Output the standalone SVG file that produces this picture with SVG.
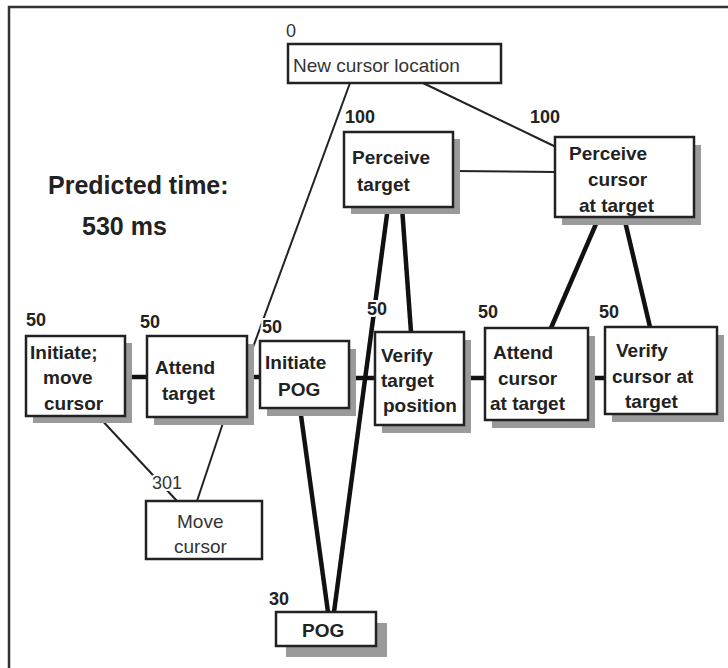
<svg xmlns="http://www.w3.org/2000/svg" width="728" height="668" viewBox="0 0 728 668">
<style>
.box{fill:#fff;stroke:#222;stroke-width:2.5}
.shadow{fill:#9a9a9a;stroke:none}
.b{font-family:"Liberation Sans",Arial,sans-serif;font-weight:bold;font-size:19px;fill:#222}
.lbl{font-family:"Liberation Sans",Arial,sans-serif;font-weight:bold;font-size:18px;fill:#222;stroke:#fff;stroke-width:4;paint-order:stroke}
.r{font-family:"Liberation Sans",Arial,sans-serif;font-size:19px;fill:#333}
.rl{font-family:"Liberation Sans",Arial,sans-serif;font-size:18px;fill:#333;stroke:#fff;stroke-width:4;paint-order:stroke}
.thick{stroke:#111;stroke-width:4.5;fill:none}
.thin{stroke:#222;stroke-width:2;fill:none}
.title{font-family:"Liberation Sans",Arial,sans-serif;font-weight:bold;font-size:25px;fill:#222}
</style>
<rect width="728" height="668" fill="#fff"/>
<path d="M9,668 V7 H728" fill="none" stroke="#333" stroke-width="2.5"/>
<g id="title">
<text class="title" x="48" y="194">Predicted time:</text>
<text class="title" x="82" y="235">530 ms</text>
</g>
<g id="connectors">
<line class="thin" x1="350" y1="83" x2="252" y2="350"/>
<line class="thin" x1="423" y1="83" x2="556" y2="147"/>
<line class="thin" x1="453" y1="171" x2="556" y2="172"/>
<line class="thin" x1="98" y1="416" x2="177" y2="501"/>
<line class="thin" x1="225" y1="417" x2="197" y2="501"/>
<line class="thick" x1="125" y1="377" x2="147" y2="377"/>
<line class="thick" x1="247" y1="377" x2="260" y2="377"/>
<line class="thick" x1="349" y1="378" x2="375" y2="378"/>
<line class="thick" x1="464" y1="378" x2="485" y2="378"/>
<line class="thick" x1="588" y1="378" x2="605" y2="378"/>
<line class="thick" x1="388" y1="207" x2="334" y2="612"/>
<line class="thick" x1="402" y1="207" x2="411" y2="332"/>
<line class="thick" x1="599" y1="217" x2="551" y2="328"/>
<line class="thick" x1="624" y1="217" x2="650" y2="327"/>
<line class="thick" x1="300" y1="408" x2="328" y2="612"/>
</g>
<g id="new-cursor-location">
<rect class="box" x="288" y="44" width="213" height="39"/>
<text class="rl" x="286" y="37" font-size="15">0</text>
<text class="r" x="293" y="72">New cursor location</text>
</g>
<g id="perceive-target">
<rect class="shadow" x="351" y="139" width="109" height="75"/>
<rect class="box" x="344" y="132" width="109" height="75"/>
<text class="lbl" x="345" y="123">100</text>
<text class="b" x="352" y="164">Perceive</text>
<text class="b" x="357" y="191">target</text>
</g>
<g id="perceive-cursor">
<rect class="shadow" x="562" y="145" width="139" height="80"/>
<rect class="box" x="555" y="137" width="139" height="80"/>
<text class="lbl" x="530" y="123">100</text>
<text class="b" x="569" y="160">Perceive</text>
<text class="b" x="588" y="186">cursor</text>
<text class="b" x="579" y="212">at target</text>
</g>
<g id="initiate-move">
<rect class="shadow" x="33" y="343" width="99" height="80"/>
<rect class="box" x="26" y="336" width="99" height="80"/>
<text class="lbl" x="26" y="326">50</text>
<text class="b" x="30" y="359">Initiate;</text>
<text class="b" x="43" y="384">move</text>
<text class="b" x="44" y="410">cursor</text>
</g>
<g id="attend-target">
<rect class="shadow" x="154" y="344" width="100" height="81"/>
<rect class="box" x="147" y="336" width="100" height="81"/>
<text class="lbl" x="140" y="328">50</text>
<text class="b" x="155" y="374">Attend</text>
<text class="b" x="162" y="400">target</text>
</g>
<g id="initiate-pog">
<rect class="shadow" x="267" y="349" width="89" height="67"/>
<rect class="box" x="260" y="341" width="89" height="67"/>
<text class="lbl" x="262" y="333">50</text>
<text class="b" x="265" y="369">Initiate</text>
<text class="b" x="278" y="396">POG</text>
</g>
<g id="verify-target">
<rect class="shadow" x="382" y="340" width="89" height="93"/>
<rect class="box" x="375" y="332" width="89" height="93"/>
<text class="lbl" x="367" y="315">50</text>
<text class="b" x="381" y="362">Verify</text>
<text class="b" x="381" y="387">target</text>
<text class="b" x="383" y="412">position</text>
</g>
<g id="attend-cursor">
<rect class="shadow" x="492" y="336" width="103" height="92"/>
<rect class="box" x="485" y="328" width="103" height="92"/>
<text class="lbl" x="478" y="318">50</text>
<text class="b" x="493" y="359">Attend</text>
<text class="b" x="498" y="385">cursor</text>
<text class="b" x="490" y="410">at target</text>
</g>
<g id="verify-cursor">
<rect class="shadow" x="612" y="335" width="112" height="87"/>
<rect class="box" x="605" y="327" width="112" height="87"/>
<text class="lbl" x="599" y="318">50</text>
<text class="b" x="616" y="357">Verify</text>
<text class="b" x="612" y="383">cursor at</text>
<text class="b" x="625" y="408">target</text>
</g>
<g id="move-cursor">
<rect class="box" x="146" y="501" width="116" height="58"/>
<text class="rl" x="152" y="489">301</text>
<text class="r" x="177" y="528">Move</text>
<text class="r" x="174" y="553">cursor</text>
</g>
<g id="pog">
<rect class="shadow" x="286" y="623" width="101" height="34"/>
<rect class="box" x="276" y="612" width="100" height="34"/>
<text class="lbl" x="269" y="605">30</text>
<text class="b" x="302" y="637">POG</text>
</g>
</svg>
